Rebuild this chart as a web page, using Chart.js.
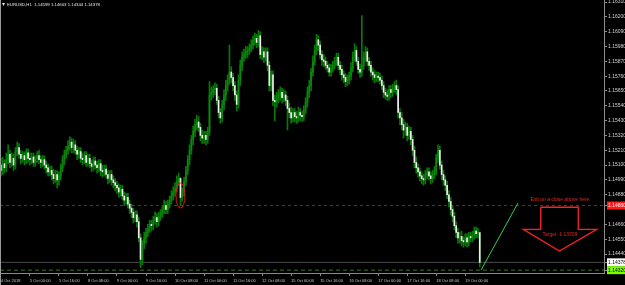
<!DOCTYPE html>
<html>
<head>
<meta charset="utf-8">
<title>EURUSD,H1</title>
<script src="https://cdn.jsdelivr.net/npm/chart.js@4.4.1/dist/chart.umd.min.js"></script>
<style>
  html, body { margin: 0; padding: 0; background: #000; }
  canvas { display: block; }
</style>
</head>
<body>
<canvas id="chart" width="625" height="285"></canvas>
<script>
// ============================================================
// EURUSD H1 — 4 Oct 2018 08:00 .. 19 Oct 2018 08:00
// one row = 8 hourly bars
// ============================================================

const opens = [
  1.1510,1.1506,1.1511,1.1508,1.1514,1.1518,1.1512,1.1515,
  1.1510,1.1520,1.1523,1.1518,1.1515,1.1517,1.1514,1.1519,
  1.1515,1.1514,1.1516,1.1512,1.1515,1.1517,1.1514,1.1512,
  1.1514,1.1510,1.1508,1.1505,1.1506,1.1503,1.1500,1.1503,
  1.1499,1.1502,1.1508,1.1514,1.1518,1.1521,1.1524,1.1527,
  1.1523,1.1525,1.1521,1.1518,1.1520,1.1515,1.1514,1.1517,
  1.1512,1.1515,1.1511,1.1509,1.1513,1.1510,1.1508,1.1511,
  1.1506,1.1505,1.1507,1.1503,1.1500,1.1503,1.1499,1.1497,
  1.1495,1.1493,1.1490,1.1492,1.1487,1.1484,1.1486,1.1481,
  1.1478,1.1475,1.1471,1.1473,1.1468,1.1456,1.1440,1.1451,
  1.1456,1.1460,1.1463,1.1466,1.1465,1.1469,1.1471,1.1468,
  1.1472,1.1474,1.1477,1.1480,1.1477,1.1481,1.1484,1.1487,
  1.1490,1.1493,1.1498,1.1500,1.1486,1.1490,1.1498,1.1506,
  1.1514,1.1521,1.1529,1.1535,1.1540,1.1542,1.1538,1.1532,
  1.1530,1.1532,1.1529,1.1535,1.1562,1.1564,1.1566,1.1567,
  1.1558,1.1549,1.1545,1.1555,1.1562,1.1569,1.1573,1.1579,
  1.1575,1.1569,1.1562,1.1555,1.1573,1.1584,1.1590,1.1592,
  1.1594,1.1595,1.1597,1.1599,1.1603,1.1604,1.1601,1.1606,
  1.1592,1.1594,1.1590,1.1594,1.1584,1.1569,1.1577,1.1558,
  1.1557,1.1560,1.1562,1.1564,1.1560,1.1562,1.1558,1.1552,
  1.1549,1.1545,1.1549,1.1546,1.1545,1.1549,1.1547,1.1546,
  1.1551,1.1557,1.1564,1.1569,1.1579,1.1587,1.1595,1.1603,
  1.1599,1.1592,1.1588,1.1587,1.1584,1.1582,1.1579,1.1582,
  1.1584,1.1587,1.1590,1.1584,1.1581,1.1577,1.1575,1.1572,
  1.1573,1.1576,1.1582,1.1590,1.1595,1.1587,1.1581,1.1579,
  1.1584,1.1590,1.1594,1.1587,1.1584,1.1579,1.1577,1.1575,
  1.1576,1.1575,1.1573,1.1569,1.1564,1.1562,1.1561,1.1566,
  1.1564,1.1567,1.1569,1.1566,1.1549,1.1545,1.1540,1.1536,
  1.1538,1.1532,1.1535,1.1529,1.1521,1.1512,1.1508,1.1505,
  1.1502,1.1500,1.1499,1.1503,1.1505,1.1502,1.1500,1.1503,
  1.1506,1.1515,1.1521,1.1510,1.1503,1.1499,1.1495,1.1488,
  1.1483,1.1477,1.1472,1.1465,1.1460,1.1456,1.1457,1.1454,
  1.1453,1.1456,1.1453,1.1457,1.1456,1.1458,1.1461,1.1459,
  1.14599
];

const highs = [
  1.1515,1.1516,1.1514,1.1519,1.1525,1.1521,1.1519,1.1518,
  1.1523,1.1527,1.1526,1.1521,1.1520,1.1520,1.1522,1.1522,
  1.1519,1.1519,1.1519,1.1517,1.1520,1.1521,1.1517,1.1517,
  1.1517,1.1513,1.1511,1.1509,1.1509,1.1507,1.1506,1.1506,
  1.1505,1.1511,1.1517,1.1521,1.1524,1.1528,1.1531,1.1530,
  1.1529,1.1528,1.1524,1.1523,1.1523,1.1519,1.1520,1.1520,
  1.1518,1.1518,1.1514,1.1516,1.1516,1.1513,1.1514,1.1514,
  1.1510,1.1510,1.1510,1.1506,1.1506,1.1506,1.1502,1.1500,
  1.1498,1.1496,1.1495,1.1495,1.1490,1.1489,1.1489,1.1484,
  1.1481,1.1478,1.1476,1.1476,1.1471,1.1459,1.1454,1.1460,
  1.1463,1.1466,1.1469,1.1469,1.1472,1.1475,1.1474,1.1475,
  1.1477,1.1480,1.1484,1.1483,1.1484,1.1487,1.1491,1.1494,
  1.1497,1.1502,1.1504,1.1501,1.1493,1.1501,1.1509,1.1517,
  1.1525,1.1532,1.1539,1.1544,1.1547,1.1546,1.1541,1.1536,
  1.1535,1.1535,1.1538,1.1572,1.1568,1.1569,1.1571,1.1570,
  1.1561,1.1552,1.1558,1.1566,1.1573,1.1577,1.1599,1.1583,
  1.1578,1.1572,1.1565,1.1577,1.1588,1.1594,1.1596,1.1598,
  1.1598,1.1600,1.1603,1.1606,1.1608,1.1607,1.1610,1.1609,
  1.1598,1.1597,1.1597,1.1597,1.1587,1.1580,1.1580,1.1562,
  1.1564,1.1566,1.1568,1.1567,1.1566,1.1565,1.1561,1.1556,
  1.1553,1.1552,1.1552,1.1550,1.1553,1.1552,1.1550,1.1554,
  1.1560,1.1568,1.1573,1.1582,1.1591,1.1599,1.1607,1.1606,
  1.1602,1.1595,1.1592,1.1590,1.1587,1.1585,1.1585,1.1587,
  1.1590,1.1593,1.1593,1.1587,1.1584,1.1580,1.1578,1.1577,
  1.1579,1.1586,1.1594,1.1600,1.1598,1.1590,1.1585,1.1621,
  1.1594,1.1598,1.1597,1.1590,1.1587,1.1582,1.1580,1.1579,
  1.1579,1.1578,1.1576,1.1572,1.1567,1.1566,1.1569,1.1569,
  1.1570,1.1572,1.1573,1.1569,1.1552,1.1549,1.1544,1.1542,
  1.1541,1.1539,1.1538,1.1532,1.1524,1.1516,1.1511,1.1508,
  1.1505,1.1503,1.1506,1.1508,1.1508,1.1505,1.1506,1.1509,
  1.1518,1.1525,1.1524,1.1513,1.1506,1.1502,1.1498,1.1491,
  1.1486,1.1480,1.1475,1.1468,1.1463,1.1460,1.1461,1.1457,
  1.1459,1.1459,1.1460,1.1460,1.1461,1.1464,1.1464,1.1463,
  1.14603
];

const lows = [
  1.1502,1.1503,1.1504,1.1505,1.1511,1.1508,1.1509,1.1506,
  1.1507,1.1517,1.1515,1.1511,1.1512,1.1510,1.1511,1.1512,
  1.1510,1.1511,1.1509,1.1509,1.1512,1.1511,1.1508,1.1509,
  1.1507,1.1504,1.1502,1.1502,1.1499,1.1496,1.1497,1.1493,
  1.1495,1.1499,1.1505,1.1510,1.1515,1.1518,1.1521,1.1519,
  1.1519,1.1518,1.1514,1.1515,1.1512,1.1510,1.1511,1.1509,
  1.1509,1.1508,1.1505,1.1506,1.1507,1.1504,1.1505,1.1502,
  1.1501,1.1502,1.1500,1.1496,1.1497,1.1495,1.1493,1.1491,
  1.1489,1.1486,1.1487,1.1484,1.1480,1.1481,1.1478,1.1474,
  1.1471,1.1467,1.1468,1.1464,1.1453,1.1434,1.1436,1.1448,
  1.1452,1.1457,1.1460,1.1461,1.1462,1.1466,1.1464,1.1465,
  1.1469,1.1471,1.1474,1.1474,1.1474,1.1478,1.1481,1.1484,
  1.1487,1.1490,1.1495,1.1480,1.1483,1.1487,1.1495,1.1503,
  1.1510,1.1518,1.1525,1.1531,1.1536,1.1535,1.1528,1.1526,
  1.1526,1.1525,1.1526,1.1532,1.1558,1.1560,1.1562,1.1555,
  1.1545,1.1541,1.1542,1.1551,1.1558,1.1565,1.1570,1.1571,
  1.1565,1.1558,1.1550,1.1552,1.1569,1.1580,1.1587,1.1589,
  1.1590,1.1592,1.1594,1.1596,1.1599,1.1597,1.1598,1.1589,
  1.1588,1.1586,1.1587,1.1580,1.1565,1.1565,1.1554,1.1543,
  1.1553,1.1556,1.1558,1.1556,1.1557,1.1554,1.1536,1.1545,
  1.1541,1.1542,1.1542,1.1541,1.1542,1.1543,1.1542,1.1543,
  1.1548,1.1553,1.1560,1.1565,1.1576,1.1584,1.1592,1.1595,
  1.1589,1.1584,1.1583,1.1581,1.1579,1.1576,1.1576,1.1579,
  1.1581,1.1584,1.1581,1.1577,1.1573,1.1571,1.1568,1.1569,
  1.1570,1.1573,1.1579,1.1587,1.1584,1.1578,1.1575,1.1576,
  1.1581,1.1587,1.1584,1.1580,1.1576,1.1573,1.1571,1.1572,
  1.1572,1.1570,1.1566,1.1560,1.1559,1.1558,1.1558,1.1560,
  1.1561,1.1564,1.1562,1.1545,1.1540,1.1536,1.1530,1.1532,
  1.1528,1.1529,1.1525,1.1517,1.1508,1.1504,1.1501,1.1498,
  1.1496,1.1495,1.1496,1.1500,1.1499,1.1496,1.1497,1.1500,
  1.1503,1.1512,1.1507,1.1499,1.1495,1.1491,1.1485,1.1479,
  1.1473,1.1468,1.1462,1.1456,1.1452,1.1452,1.1450,1.1449,
  1.1450,1.1449,1.1450,1.1453,1.1453,1.1455,1.1456,1.1456,
  1.14344
];

const closes = [
  1.1506,1.1511,1.1508,1.1514,1.1518,1.1512,1.1515,1.1510,
  1.1520,1.1523,1.1518,1.1515,1.1517,1.1514,1.1519,1.1515,
  1.1514,1.1516,1.1512,1.1515,1.1517,1.1514,1.1512,1.1514,
  1.1510,1.1508,1.1505,1.1506,1.1503,1.1500,1.1503,1.1499,
  1.1502,1.1508,1.1514,1.1518,1.1521,1.1524,1.1527,1.1523,
  1.1525,1.1521,1.1518,1.1520,1.1515,1.1514,1.1517,1.1512,
  1.1515,1.1511,1.1509,1.1513,1.1510,1.1508,1.1511,1.1506,
  1.1505,1.1507,1.1503,1.1500,1.1503,1.1499,1.1497,1.1495,
  1.1493,1.1490,1.1492,1.1487,1.1484,1.1486,1.1481,1.1478,
  1.1475,1.1471,1.1473,1.1468,1.1456,1.1440,1.1451,1.1456,
  1.1460,1.1463,1.1466,1.1465,1.1469,1.1471,1.1468,1.1472,
  1.1474,1.1477,1.1480,1.1477,1.1481,1.1484,1.1487,1.1490,
  1.1493,1.1498,1.1500,1.1486,1.1490,1.1498,1.1506,1.1514,
  1.1521,1.1529,1.1535,1.1540,1.1542,1.1538,1.1532,1.1530,
  1.1532,1.1529,1.1535,1.1562,1.1564,1.1566,1.1567,1.1558,
  1.1549,1.1545,1.1555,1.1562,1.1569,1.1573,1.1579,1.1575,
  1.1569,1.1562,1.1555,1.1573,1.1584,1.1590,1.1592,1.1594,
  1.1595,1.1597,1.1599,1.1603,1.1604,1.1601,1.1606,1.1592,
  1.1594,1.1590,1.1594,1.1584,1.1569,1.1577,1.1558,1.1557,
  1.1560,1.1562,1.1564,1.1560,1.1562,1.1558,1.1552,1.1549,
  1.1545,1.1549,1.1546,1.1545,1.1549,1.1547,1.1546,1.1551,
  1.1557,1.1564,1.1569,1.1579,1.1587,1.1595,1.1603,1.1599,
  1.1592,1.1588,1.1587,1.1584,1.1582,1.1579,1.1582,1.1584,
  1.1587,1.1590,1.1584,1.1581,1.1577,1.1575,1.1572,1.1573,
  1.1576,1.1582,1.1590,1.1595,1.1587,1.1581,1.1579,1.1584,
  1.1590,1.1594,1.1587,1.1584,1.1579,1.1577,1.1575,1.1576,
  1.1575,1.1573,1.1569,1.1564,1.1562,1.1561,1.1566,1.1564,
  1.1567,1.1569,1.1566,1.1549,1.1545,1.1540,1.1536,1.1538,
  1.1532,1.1535,1.1529,1.1521,1.1512,1.1508,1.1505,1.1502,
  1.1500,1.1499,1.1503,1.1505,1.1502,1.1500,1.1503,1.1506,
  1.1515,1.1521,1.1510,1.1503,1.1499,1.1495,1.1488,1.1483,
  1.1477,1.1472,1.1465,1.1460,1.1456,1.1457,1.1454,1.1453,
  1.1456,1.1453,1.1457,1.1456,1.1458,1.1461,1.1459,1.1460,
  1.14378
];

// time axis: a label every 16 bars
const xTickBars   = [0, 16, 32, 48, 64, 80, 96, 112, 128, 144, 160, 176, 192, 208, 224, 240, 256];
const xTickLabels = ['4 Oct 2018', '5 Oct 00:00', '5 Oct 16:00', '8 Oct 08:00', '9 Oct 00:00', '9 Oct 16:00',
                     '10 Oct 08:00', '11 Oct 00:00', '11 Oct 16:00', '12 Oct 08:00', '15 Oct 00:00', '15 Oct 16:00',
                     '16 Oct 08:00', '17 Oct 00:00', '17 Oct 16:00', '18 Oct 08:00', '19 Oct 00:00'];

// price axis
const yTicks = [1.16310, 1.16200, 1.16090, 1.15980, 1.15870, 1.15760, 1.15650, 1.15540, 1.15430,
                1.15320, 1.15210, 1.15100, 1.14990, 1.14880, 1.14660, 1.14550, 1.14440];
const yMin = 1.14299, yMax = 1.16325;
const xMin = -0.5,    xMax = 332.5;

// drawn objects
const exitLevel  = 1.14800;
const bidPrice   = 1.14378;
const greenLevel = 1.14320;
const trendX = [264.7, 285.1];
const trendY = [1.14320, 1.14819];
const arrowX = [297.6, 318.3, 318.3, 328.5, 307.9, 288.0, 297.6, 297.6];
const arrowY = [1.14787, 1.14787, 1.14623, 1.14623, 1.14462, 1.14623, 1.14623, 1.14787];
const markedBar = 99, markedTop = 1.14967, markedBottom = 1.14781;

const WICK = '#087808';
const BULL = '#0a8a0a';
const BEAR = '#f0f0f0';
const FONT = '"Liberation Sans", Arial, sans-serif';

const bars = closes.map((c, i) => i);

function hline(price, color, dash) {
  return {
    type: 'line',
    data: [{ x: xMin, y: price }, { x: xMax, y: price }],
    borderColor: color, borderWidth: 1, borderDash: dash,
    pointRadius: 0, order: 5,
  };
}

const bgPlugin = {
  id: 'mtBackground',
  beforeDraw(chart) {
    const { ctx, width, height } = chart;
    ctx.save();
    ctx.fillStyle = '#000';
    ctx.fillRect(0, 0, width, height);
    ctx.restore();
  }
};

const markupPlugin = {
  id: 'mtMarkup',
  afterDatasetsDraw(chart) {
    const { ctx, scales: { x, y } } = chart;
    ctx.save();
    // ellipse round the marked candle
    const cx  = x.getPixelForValue(markedBar);
    const top = y.getPixelForValue(markedTop);
    const bot = y.getPixelForValue(markedBottom);
    ctx.strokeStyle = '#e01414';
    ctx.lineWidth = 1;
    ctx.beginPath();
    ctx.ellipse(cx, (top + bot) / 2, 4.5, (bot - top) / 2, 0, 0, Math.PI * 2);
    ctx.stroke();

    ctx.fillStyle = '#e02828';
    ctx.font = '5px ' + FONT;
    ctx.textAlign = 'center';
    ctx.textBaseline = 'middle';
    ctx.fillText('Exit on a close above here', x.getPixelForValue(308.2), y.getPixelForValue(1.14841));
    ctx.fillText('Target: 1.13709', x.getPixelForValue(308.2), y.getPixelForValue(1.14585));
    ctx.restore();
  },
  afterDraw(chart) {
    const { ctx, height } = chart;
    ctx.save();
    // window frame, left edge
    ctx.strokeStyle = '#9a9a9a';
    ctx.lineWidth = 1;
    ctx.beginPath(); ctx.moveTo(0.5, 0); ctx.lineTo(0.5, height); ctx.stroke();
    // symbol header
    ctx.fillStyle = '#e8e8e8';
    ctx.beginPath(); ctx.moveTo(2, 3); ctx.lineTo(5, 3); ctx.lineTo(3.5, 6); ctx.closePath(); ctx.fill();
    ctx.font = '4.3px ' + FONT;
    ctx.textBaseline = 'middle';
    const last = closes.length - 1;
    ctx.fillText('EURUSD,H1  ' + [opens[last], highs[last], lows[last], closes[last]].map(v => v.toFixed(5)).join(' '), 7, 4.5);
    ctx.restore();
  }
};

const labelStyle = v => {
  if (Math.abs(v - exitLevel)  < 1e-7) return { bg: '#ff1a1a', fg: '#ffffff' };
  if (Math.abs(v - bidPrice)   < 1e-7) return { bg: '#ffffff', fg: '#000000' };
  if (Math.abs(v - greenLevel) < 1e-7) return { bg: '#7cfc00', fg: '#000000' };
  return null;
};

new Chart(document.getElementById('chart'), {
  type: 'bar',
  data: {
    datasets: [
      {
        label: 'body',
        data: bars.map(i => ({ x: i, y: [opens[i], closes[i]] })),
        backgroundColor: ctx => closes[ctx.dataIndex] >= opens[ctx.dataIndex] ? BULL : BEAR,
        barThickness: 1, minBarLength: 1, grouped: false, order: 1,
      },
      {
        label: 'wick',
        data: bars.map(i => ({ x: i, y: [lows[i], highs[i]] })),
        backgroundColor: WICK,
        barThickness: 1, grouped: false, order: 2,
      },
      hline(exitLevel,  '#a01616', [3, 3]),
      hline(greenLevel, '#44721a', [4, 3]),
      hline(bidPrice,   '#4a4a4a', []),
      {
        type: 'line',
        data: trendX.map((v, k) => ({ x: v, y: trendY[k] })),
        borderColor: '#30d050', borderWidth: 1, pointRadius: 0, order: 0,
      },
      {
        type: 'line',
        data: arrowX.map((v, k) => ({ x: v, y: arrowY[k] })),
        borderColor: '#ff2020', borderWidth: 1.3, pointRadius: 0, tension: 0, order: 0,
      },
    ]
  },
  options: {
    responsive: false,
    animation: false,
    devicePixelRatio: 1,
    layout: { padding: 0 },
    plugins: { legend: { display: false }, tooltip: { enabled: false } },
    scales: {
      x: {
        type: 'linear', min: xMin, max: xMax, offset: false,
        grid: { display: true, drawOnChartArea: false, drawTicks: true, tickLength: 3, color: '#8a8a8a', offset: false },
        border: { display: true, color: '#8a8a8a' },
        ticks: {
          autoSkip: false, maxRotation: 0, align: 'start', padding: 2,
          color: '#c8c8c8', font: { family: FONT, size: 4 },
          callback: (v, idx) => xTickLabels[idx],
        },
        afterBuildTicks: s => { s.ticks = xTickBars.map(v => ({ value: v })); },
        afterFit: s => { s.height = 12; s.paddingLeft = 0; s.paddingRight = 0; },
      },
      y: {
        type: 'linear', position: 'right', min: yMin, max: yMax, beginAtZero: false,
        grid: { display: true, drawOnChartArea: false, drawTicks: true, tickLength: 3, color: '#8a8a8a' },
        border: { display: true, color: '#8a8a8a' },
        ticks: {
          autoSkip: false, padding: 1,
          font: { family: FONT, size: 5 },
          color: ctx => { const st = labelStyle(ctx.tick.value); return st ? st.fg : '#d0d0d0'; },
          showLabelBackdrop: ctx => !!labelStyle(ctx.tick.value),
          backdropColor: ctx => { const st = labelStyle(ctx.tick.value); return st ? st.bg : 'rgba(0,0,0,0)'; },
          backdropPadding: { left: 1, right: 4, top: 1, bottom: 1 },
          callback: v => v.toFixed(5),
        },
        afterBuildTicks: s => { s.ticks = yTicks.concat([exitLevel, bidPrice, greenLevel]).map(v => ({ value: v })); },
        afterFit: s => { s.width = 21; s.paddingTop = 0; s.paddingBottom = 0; },
      }
    }
  },
  plugins: [bgPlugin, markupPlugin]
});
</script>
</body>
</html>
